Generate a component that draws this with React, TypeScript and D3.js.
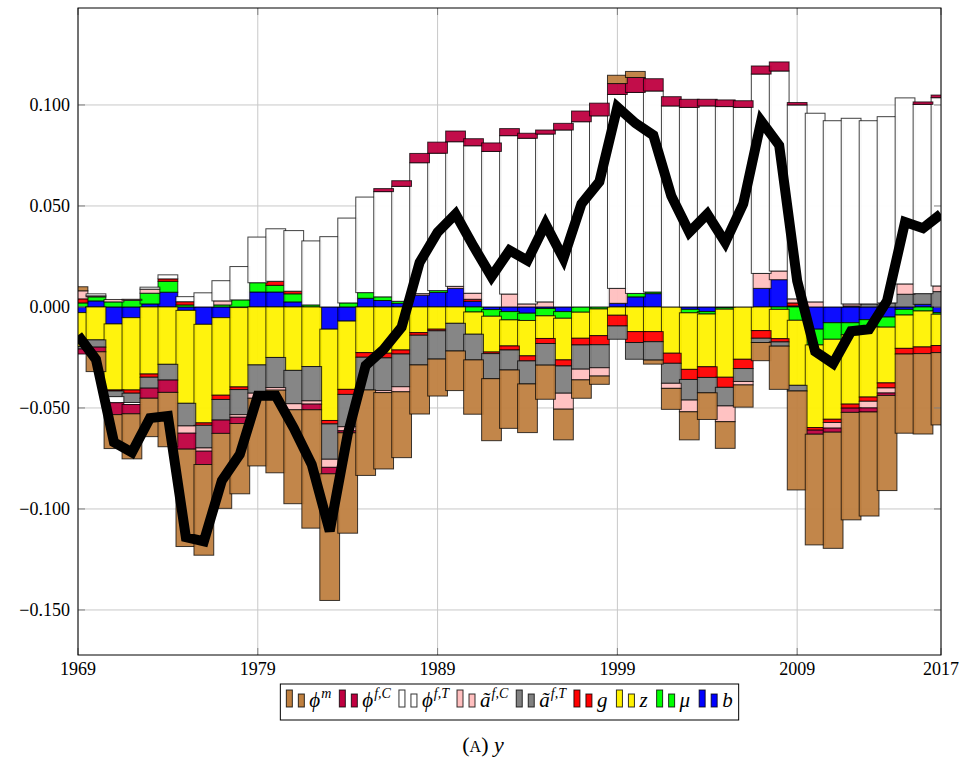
import React, { useEffect, useRef } from "react";
import * as d3 from "d3";

// all component values are in thousandths (0.001)
const years = d3.range(1969, 2018);

const phiM = [
  2, -9.8, -16.8, -22.3, -19, -26.9, -48.2, -44.9, -37.1, -34.8, -33.5, -40.9, -46.5, -58.6, -62.7, -49.7,
  -42.3, -37.8, -32.6, -24.3, -18.3, -19.6, -26.9, -30.7, -28.9, -24.1, -16.9, -15.2, -9.1, -4.1, 4.1, 3,
  -2, -10.4, -13.9, -13.2, -13.2, -11, -9, -21.4, -49, -54.8, -57.5, -53.2, -51.5, -47.1, -39.2, -39.8, -35.8,
];
const phiFC = [
  -2.5, -2.3, -5.9, -4.6, -5, -6.1, -7.9, -6.6, -6.6, -3.1, 0, 0, 0, -2.8, -3.2, -1,
  0, 1.5, 2.8, 4.6, 5.5, 5.3, 3.5, 4.2, 3.5, 2.5, 2, 3.3, 5.3, 6.3, 5.4, 7.4,
  6.1, 4.6, 4, 3.3, 3.3, 3.3, 4, 4.5, 1.2, -2, -2, -2.1, -2, -1.2, 0, 1.2, 1.3,
];
const phiFT = [
  0, 1, -3, -1, 1, 2, 2.5, 7, 10, 16.5, 22.6, 26, 30, 31.7, 34.8, 42,
  47.3, 52.1, 56.9, 64.8, 68, 71.6, 73, 77, 78.4, 82, 83.1, 87.6, 91.7, 94.6, 96, 99.5,
  99.5, 99.5, 98.8, 99.5, 99.2, 98.8, 98.7, 99, 96, 93.4, 92.2, 91.9, 90.7, 92.2, 92.1, 93.7, 93.2,
];
const aFC = [
  4, 0.5, 1.2, 0.5, 2, 0, -3.6, -1.6, 2, -1.3, -2.5, -1.3, -3, -1.6, -4, -2,
  0, -1, -2.5, 0.8, 0, 1, 3, 0, 6.4, 1.5, 2.5, -7.9, -5.3, -4.1, 7.4, 0,
  0, -2.5, -5.8, 0, -7.8, -1.7, 7.4, 4.3, 2, 2.5, -2.8, 1, -3.3, -2.5, 5.1, 0, 2.8,
];
const aFT = [
  -1.2, -3.6, -2.8, -4.6, -5.4, -7.8, -11.2, -11.2, -10.2, -12.4, -14, -14.9, -16.5, -17, -17.5, -16,
  -16.2, -16.2, -16.2, -14.7, -14, -13.7, -12.7, -12.4, -9.9, -11.4, -10.7, -13.5, -12, -11.4, -6.6, -8.3,
  -9.1, -9.9, -10.2, -7.6, -9.2, -6.4, -2.1, -2.1, -2.8, 0, 0, 0.5, 1.5, 2, 6.3, 5.3, 7.6,
];
const gVals = [
  2, 0, -0.5, -1.6, -1.6, 1.2, 1.6, -1.2, -2.1, -1.3, 0, 2, 1.3, 0, -1.7, -2.5,
  -2.3, -2.3, -2, -1.3, -0.8, 0, 1, -0.8, -2, -2.5, -2.5, -3, -3.3, -4.5, -5.3, -5.4,
  -5, -5, -5, -5.3, -5, -4.6, -3.8, -1.6, 1.5, -1.3, -1.6, -2, -2.1, -2.5, -2.8, -3.3, -3.5,
];
const zVals = [
  -16.8, -16.3, -32.7, -35.8, -33.2, -28.4, -46, -48.8, -38.4, -39.3, -28.7, -25, -31.4, -29.5, -45.2, -33.8,
  -22.6, -22.9, -21.3, -12.7, -11, -8.1, -11, -17.7, -12.9, -17.5, -11.2, -20.6, -12.9, -13.2, -4.1, -12.2,
  -12.2, -22.9, -28, -26.1, -33.7, -25.9, -11.7, -14.5, -32.2, -40.9, -39.6, -34.3, -34.7, -27.6, -16.5, -17.8, -15.5,
];
const muVals = [
  2, 2, 2.5, 3.3, 5.3, 5.4, 1, 0, 1, 3.5, 4.6, 3.3, 4, 1, 0, 2,
  2.8, 1.8, 1, 0, 0.9, 0, -2.5, -3.3, -4.1, -3.6, -3.6, -3.3, -2.6, -1, 0, 1.7,
  0.8, 0, -1.7, -1.2, -0.8, 0, 0, -1.2, -6.6, -7.8, -8.2, -6, -3.6, -5, -2.8, -2, -0.8,
];
const bVals = [
  -2.8, 3, -8.4, -5.3, 1.5, 7.3, -1.7, -8.6, -5.3, -0.3, 7.4, 7.4, 2.5, 0, -11, -7,
  4.3, 3.2, 1.8, 5.8, 7.2, 9.2, 2.8, -1.3, -2.3, -3.1, -0.8, -2.3, 0, 0, 1.8, 5,
  6.6, 0, -1.2, -2.3, -0.3, 0, 9.2, 13.5, 0.5, -11, -7.8, -7.8, -6.3, -5, -1.2, 1.3, -2.8,
];
// total y (black line)
const yTotal = [
  -14, -26, -67, -72, -55, -54, -114, -116, -86, -73, -44, -44, -60, -78, -111, -63,
  -29, -21, -10, 22, 37, 46, 30, 15, 28, 23, 41, 24, 51, 62, 99, 91,
  85, 55, 37, 46, 32, 51, 92, 80, 13, -22, -28, -12, -11, 3, 42, 39, 46,
];

const yTicks = [-0.15, -0.1, -0.05, 0, 0.05, 0.1];
const xTicks = [1969, 1979, 1989, 1999, 2009, 2017];

interface Series {
  key: string;
  values: number[];
  color: string;
  base: string;
  sup: string;
}

// legend order
const series: Series[] = [
  { key: "phiM", values: phiM, color: "#bf8040", base: "ϕ", sup: "m" },
  { key: "phiFC", values: phiFC, color: "#bf0040", base: "ϕ", sup: "f,C" },
  { key: "phiFT", values: phiFT, color: "#ffffff", base: "ϕ", sup: "f,T" },
  { key: "aFC", values: aFC, color: "#ffbfbf", base: "ã", sup: "f,C" },
  { key: "aFT", values: aFT, color: "#808080", base: "ã", sup: "f,T" },
  { key: "g", values: gVals, color: "#ff0000", base: "g", sup: "" },
  { key: "z", values: zVals, color: "#fff200", base: "z", sup: "" },
  { key: "mu", values: muVals, color: "#00ff00", base: "μ", sup: "" },
  { key: "b", values: bVals, color: "#0000ff", base: "b", sup: "" },
];

// stacking outward from zero
const stackOrder = ["b", "mu", "z", "g", "aFT", "aFC", "phiFT", "phiFC", "phiM"];

const FONT = "'Liberation Serif', 'DejaVu Serif', serif";

interface Segment {
  year: number;
  key: string;
  y0: number;
  y1: number;
  color: string;
}

const App: React.FC = () => {
  const chartRef = useRef<SVGSVGElement | null>(null);

  useEffect(() => {
    const svg = d3.select(chartRef.current);
    svg.selectAll("*").remove();

    const left = 78;
    const right = 941;
    const top = 8;
    const bottom = 655;

    const x = d3.scaleLinear().domain([1969, 2017]).range([left, right]);
    const y = d3.scaleLinear().domain([-0.1723, 0.148]).range([bottom, top]);

    const byKey: { [k: string]: Series } = {};
    series.forEach((s) => (byKey[s.key] = s));

    const segments: Segment[] = [];
    years.forEach((yr, i) => {
      let pos = 0;
      let neg = 0;
      stackOrder.forEach((key) => {
        const s = byKey[key];
        const v = s.values[i] / 1000;
        if (v === 0) return;
        const y0 = v > 0 ? pos : neg;
        const y1 = y0 + v;
        if (v > 0) pos = y1;
        else neg = y1;
        segments.push({ year: yr, key, y0, y1, color: s.color });
      });
    });
    segments.sort(
      (a, b) => stackOrder.indexOf(a.key) - stackOrder.indexOf(b.key) || a.year - b.year
    );

    svg
      .append("defs")
      .append("clipPath")
      .attr("id", "plot-clip")
      .append("rect")
      .attr("x", left)
      .attr("y", top)
      .attr("width", right - left)
      .attr("height", bottom - top);

    // grid
    const grid = svg.append("g").attr("stroke", "#c8c8c8").attr("stroke-width", 1);
    grid
      .selectAll("line.h")
      .data(yTicks)
      .join("line")
      .attr("x1", left)
      .attr("x2", right)
      .attr("y1", (d) => y(d))
      .attr("y2", (d) => y(d));
    grid
      .selectAll("line.v")
      .data(xTicks)
      .join("line")
      .attr("x1", (d) => x(d))
      .attr("x2", (d) => x(d))
      .attr("y1", top)
      .attr("y2", bottom);

    const plot = svg.append("g").attr("clip-path", "url(#plot-clip)");
    const bw = (x(1970) - x(1969)) * 1.1;

    plot
      .append("g")
      .selectAll("rect")
      .data(segments)
      .join("rect")
      .attr("x", (d) => x(d.year) - bw / 2)
      .attr("width", bw)
      .attr("y", (d) => y(Math.max(d.y0, d.y1)))
      .attr("height", (d) => Math.abs(y(d.y0) - y(d.y1)))
      .attr("fill", (d) => d.color)
      .attr("fill-opacity", 0.95)
      .attr("stroke", "black")
      .attr("stroke-opacity", 0.75)
      .attr("stroke-width", 1);

    const line = d3
      .line<number>()
      .x((_, i) => x(years[i]))
      .y((d) => y(d / 1000));

    plot
      .append("path")
      .datum(yTotal)
      .attr("d", line)
      .attr("fill", "none")
      .attr("stroke", "black")
      .attr("stroke-width", 10)
      .attr("stroke-linejoin", "miter")
      .attr("stroke-miterlimit", 3);

    // ticks
    const ticks = svg.append("g").attr("stroke", "#808080").attr("stroke-width", 1);
    yTicks.forEach((t) => {
      ticks.append("line").attr("x1", left).attr("x2", left + 7).attr("y1", y(t)).attr("y2", y(t));
      ticks.append("line").attr("x1", right).attr("x2", right - 7).attr("y1", y(t)).attr("y2", y(t));
    });
    xTicks.forEach((t) => {
      ticks.append("line").attr("x1", x(t)).attr("x2", x(t)).attr("y1", bottom).attr("y2", bottom - 7);
      ticks.append("line").attr("x1", x(t)).attr("x2", x(t)).attr("y1", top).attr("y2", top + 7);
    });

    // frame
    svg
      .append("rect")
      .attr("x", left)
      .attr("y", top)
      .attr("width", right - left)
      .attr("height", bottom - top)
      .attr("fill", "none")
      .attr("stroke", "black")
      .attr("stroke-width", 1);

    const fmt = d3.format(".3f");
    svg
      .append("g")
      .selectAll("text")
      .data(yTicks)
      .join("text")
      .attr("x", left - 8)
      .attr("y", (d) => y(d) + 6)
      .attr("text-anchor", "end")
      .attr("font-family", FONT)
      .attr("font-size", 18)
      .text((d) => fmt(d).replace("-", "−"));

    svg
      .append("g")
      .selectAll("text")
      .data(xTicks)
      .join("text")
      .attr("x", (d) => x(d))
      .attr("y", bottom + 20)
      .attr("text-anchor", "middle")
      .attr("font-family", FONT)
      .attr("font-size", 18)
      .text((d) => String(d));

    // legend
    const legend = svg.append("g");
    const box = legend
      .append("rect")
      .attr("fill", "white")
      .attr("stroke", "black")
      .attr("stroke-width", 1);
    const baseY = 707;
    let cx = 0;
    const entries = legend.append("g");
    series.forEach((s) => {
      const e = entries.append("g").attr("transform", `translate(${cx},0)`);
      e.append("rect")
        .attr("x", 0)
        .attr("y", baseY - 17)
        .attr("width", 6)
        .attr("height", 17)
        .attr("fill", s.color)
        .attr("stroke", "black")
        .attr("stroke-opacity", 0.8);
      e.append("rect")
        .attr("x", 12)
        .attr("y", baseY - 13)
        .attr("width", 6)
        .attr("height", 13)
        .attr("fill", s.color)
        .attr("stroke", "black")
        .attr("stroke-opacity", 0.8);
      const t = e
        .append("text")
        .attr("x", 23)
        .attr("y", baseY)
        .attr("font-family", FONT)
        .attr("font-style", "italic")
        .attr("font-size", 21);
      t.append("tspan").text(s.base);
      if (s.sup) {
        t.append("tspan").attr("font-size", 14).attr("dy", -9).attr("dx", 1).text(s.sup);
      }
      const w = (t.node() as SVGTextElement).getComputedTextLength();
      cx += 23 + w + 9;
    });
    const total = cx - 9;
    const startX = (left + right) / 2 - total / 2;
    entries.attr("transform", `translate(${startX},0)`);
    box
      .attr("x", startX - 6)
      .attr("y", 684)
      .attr("width", total + 12)
      .attr("height", 36);

    // caption
    const cap = svg
      .append("text")
      .attr("x", 483)
      .attr("y", 752)
      .attr("text-anchor", "middle")
      .attr("font-family", FONT)
      .attr("font-size", 22);
    cap.append("tspan").text("(");
    cap.append("tspan").attr("font-size", 16).text("A");
    cap.append("tspan").text(")  ");
    cap.append("tspan").attr("font-style", "italic").text("y");
  }, []);

  return (
    <svg
      ref={chartRef}
      width={966}
      height={764}
      style={{ position: "absolute", left: 0, top: 0, background: "white" }}
    />
  );
};

export default App;
